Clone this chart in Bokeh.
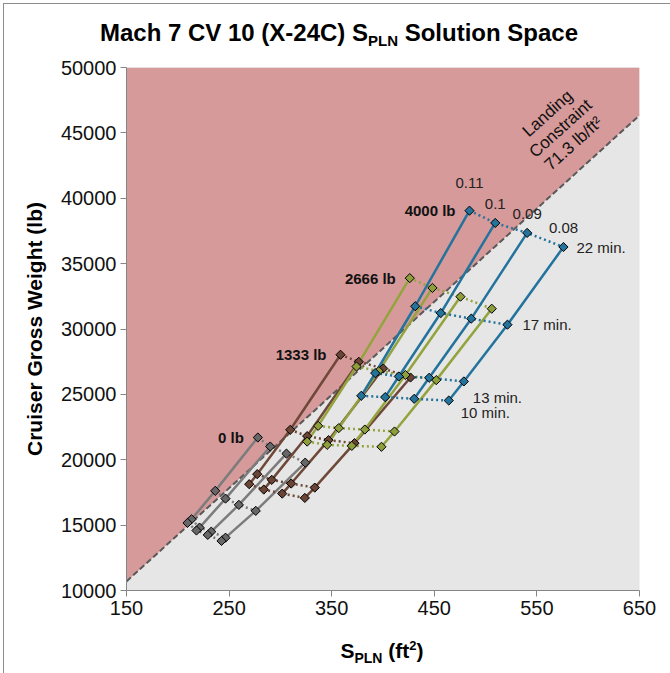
import numpy as np
from bokeh.plotting import figure
from bokeh.models import Label, FixedTicker, Div, InlineStyleSheet
from bokeh.layouts import column
from bokeh.embed import file_html
from bokeh.resources import INLINE

# ---------------- data ----------------
payloads = ["0 lb", "1333 lb", "2666 lb", "4000 lb"]
params = ["0.11", "0.1", "0.09", "0.08"]
times = ["22 min.", "17 min.", "13 min.", "10 min."]

# rows: parameter 0.11, 0.1, 0.09, 0.08 ; columns: 22, 17, 13, 10 min
s_0 = [[278.0, 236.5, 213.4, 209.5], [290.1, 246.5, 221.2, 218.2],
       [305.9, 259.5, 232.6, 229.2], [324.2, 276.0, 246.5, 242.6]]
w_0 = [[21700, 17620, 15450, 15170], [21010, 17030, 14810, 14590],
       [20470, 16550, 14500, 14250], [19780, 16090, 14040, 13790]]
s_1333 = [[358.6, 309.6, 277.4, 269.6], [376.4, 326.1, 291.6, 283.8],
          [400.2, 346.9, 310.5, 301.8], [426.8, 372.2, 333.5, 323.8]]
w_1333 = [[28030, 22290, 18900, 18130], [27490, 21810, 18460, 17720],
          [26980, 21500, 18180, 17410], [26290, 21270, 17870, 17080]]
s_2666 = [[426.1, 374.2, 336.8, 326.1], [448.2, 395.9, 356.9, 345.6],
          [475.5, 421.9, 382.3, 369.6], [506.0, 451.9, 411.2, 398.5]]
w_2666 = [[33890, 27130, 22590, 21390], [33140, 26780, 22420, 21140],
          [32470, 26480, 22310, 21060], [31550, 26090, 22160, 20990]]
s_4000 = [[484.3, 431.4, 392.4, 378.8], [509.4, 456.3, 415.4, 402.1],
          [540.5, 486.0, 445.0, 430.4], [575.9, 521.3, 478.8, 464.1]]
w_4000 = [[39050, 31740, 26630, 24890], [38110, 31220, 26370, 24790],
          [37350, 30790, 26270, 24660], [36270, 30330, 25990, 24530]]

landing_limit = 71.3  # lb/ft^2
x_ticks = [150, 250, 350, 450, 550, 650]
y_ticks = [10000, 15000, 20000, 25000, 30000, 35000, 40000, 45000, 50000]

FONT = "Liberation Sans"
W = 660
TITLE_H = 50

# ---------------- figure ----------------
FL, FB = 126, 590 - TITLE_H  # frame left / bottom inside the figure canvas

p = figure(width=W, height=626 - TITLE_H, x_range=(150, 650), y_range=(10000, 50000),
           output_backend="svg", toolbar_location=None, margin=0,
           min_border_left=126, min_border_right=W - 639,
           min_border_top=67 - TITLE_H, min_border_bottom=36)
p.grid.visible = False
p.outline_line_color = None
p.background_fill_color = "#E6E6E6"
p.border_fill_color = "white"

# landing constraint region
xr = [150, 650]
yl = [landing_limit * v for v in xr]
p.patch([xr[0], xr[1], xr[1], xr[0]], [yl[0], yl[1], 50000, 50000],
        fill_color="#D69A9A", line_color=None)
p.line(xr, yl, line_color="#595959", line_width=2, line_dash="6 3")

families = [
    (s_0, w_0, "#7C7C7C", "#676767"),
    (s_1333, w_1333, "#6E4838", "#6A4434"),
    (s_2666, w_2666, "#93A43E", "#8E9E3A"),
    (s_4000, w_4000, "#23739C", "#23739C"),
]

for s, w, lc, mc in families:
    s = np.array(s)
    w = np.array(w)
    for j in range(s.shape[1]):
        p.line(s[:, j], w[:, j], line_color=lc, line_width=2.5, line_dash="2 3")
    for i in range(s.shape[0]):
        p.line(s[i], w[i], line_color=lc, line_width=2.5)
for s, w, lc, mc in families:
    p.scatter(np.array(s).ravel(), np.array(w).ravel(), marker="square", angle=np.pi / 4,
              size=6.5, fill_color=mc, line_color="black", line_width=1)

# axes
for ax in (p.xaxis[0], p.yaxis[0]):
    ax.axis_line_color = "#868686"
    ax.major_tick_line_color = "#868686"
    ax.minor_tick_line_color = None
    ax.major_tick_in = 0
    ax.major_tick_out = 6
    ax.major_label_text_font = FONT
    ax.major_label_text_font_size = "20px"
    ax.major_label_text_color = "#111111"
p.xaxis.ticker = FixedTicker(ticks=x_ticks)
p.yaxis.ticker = FixedTicker(ticks=y_ticks)
p.xaxis.major_label_standoff = 4
p.yaxis.major_label_standoff = 4
p.yaxis.axis_label = "Cruiser Gross Weight (lb)"
p.yaxis.axis_label_text_font = FONT
p.yaxis.axis_label_text_font_size = "21px"
p.yaxis.axis_label_text_font_style = "bold"
p.yaxis.axis_label_text_color = "black"
p.yaxis.axis_label_standoff = 12


# ---------------- texts inside the plot ----------------
def scr(ix, iy, text, size, bold=False, align="left", baseline="alphabetic", angle=0.0, color="black"):
    p.add_layout(Label(x=ix - FL, y=FB - (iy - TITLE_H), x_units="screen", y_units="screen",
                       text=text, text_font=FONT, text_font_size=f"{size}px",
                       text_font_style="bold" if bold else "normal",
                       text_align=align, text_baseline=baseline, angle=angle,
                       text_color=color))


# landing constraint (page coordinates)
ang = np.deg2rad(42)
scr(547, 113, "Landing", 17, align="center", baseline="middle", angle=ang, color="#111111")
scr(560, 128, "Constraint", 17, align="center", baseline="middle", angle=ang, color="#111111")
scr(573, 143, f"{landing_limit} lb/ft²", 17, align="center", baseline="middle", angle=ang,
    color="#111111")

# payload labels at 22-min / 0.11 point
for name, (s, w, lc, mc) in zip(payloads, families):
    p.add_layout(Label(x=s[0][0], y=w[0][0], text=name, text_font=FONT, text_font_size="15px",
                       text_font_style="bold", text_align="right", text_baseline="middle",
                       x_offset=-14, y_offset=0, text_color="#111111"))

# parameter labels above 4000 lb 22-min points
s4, w4 = s_4000, w_4000
for i, name in enumerate(params):
    p.add_layout(Label(x=s4[i][0], y=w4[i][0], text=name, text_font=FONT, text_font_size="15px",
                       text_align="center", text_baseline="middle",
                       y_offset=28 if i == 0 else 19, text_color="#222222"))

# time labels next to 0.08 line of 4000 lb
t_off = [(13, 0), (15, 0), (9, -16), (12, -12)]
for j, name in enumerate(times):
    dx, dy = t_off[j]
    p.add_layout(Label(x=s4[3][j], y=w4[3][j], text=name, text_font=FONT, text_font_size="15px",
                       text_align="left", text_baseline="middle",
                       x_offset=dx, y_offset=dy, text_color="#222222"))

# ---------------- title and x-axis label (need subscripts) ----------------
title = Div(width=W, height=TITLE_H, margin=0, text=(
    f'<div style="box-sizing:border-box;font-family:\'{FONT}\';font-weight:bold;font-size:24px;'
    f'line-height:24px;color:#000;text-align:center;padding-left:18px;padding-top:21px;'
    f'width:{W}px;white-space:nowrap">'
    'Mach 7 CV 10 (X-24C) S<span style="font-size:15px;position:relative;top:5px">PLN</span>'
    ' Solution Space</div>'))

xlabel = Div(width=W, height=40, margin=0, text=(
    f'<div style="box-sizing:border-box;font-family:\'{FONT}\';font-weight:bold;font-size:21px;'
    f'line-height:21px;color:#000;text-align:center;padding-left:104px;padding-top:14px;'
    f'width:{W}px;white-space:nowrap">'
    'S<span style="font-size:14px;position:relative;top:5px">PLN</span>'
    ' (ft<span style="font-size:13px;position:relative;top:-8px">2</span>)</div>'))

frame_css = InlineStyleSheet(css=(
    ":host::before { content: ''; position: absolute; left: 3px; top: 3px; "
    "width: 700px; height: 700px; border-top: 1px solid #8C8C8C; "
    "border-left: 1px solid #8C8C8C; z-index: 100; pointer-events: none; }"))

layout = column(title, p, xlabel, spacing=0, margin=0, stylesheets=[frame_css])

open("out.html", "w").write(file_html(layout, INLINE))
